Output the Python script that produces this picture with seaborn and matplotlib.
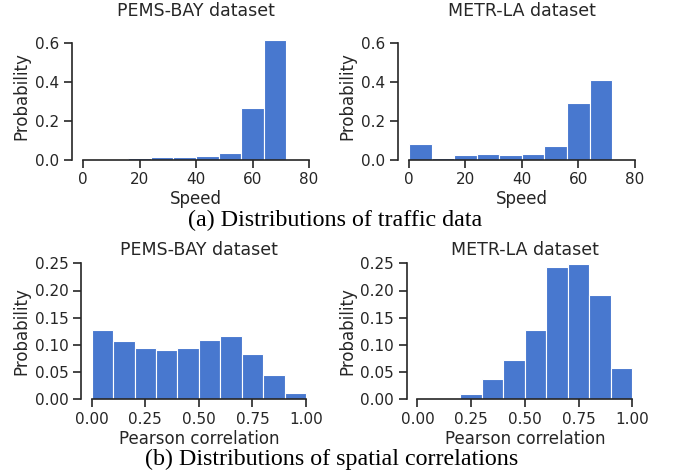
import numpy as np
import pandas as pd
import matplotlib
matplotlib.use("Agg")
import matplotlib.pyplot as plt
import seaborn as sns

# ---- data ----
speed_edges = [0, 8, 16, 24, 32, 40, 48, 56, 64, 72, 80]
pems_speed_prob = [0.0, 0.0, 0.009, 0.016, 0.016, 0.018, 0.034, 0.267, 0.616, 0.003]
metr_speed_prob = [0.082, 0.012, 0.025, 0.030, 0.027, 0.032, 0.073, 0.294, 0.412, 0.0]

corr_edges = [0.0, 0.1, 0.2, 0.3, 0.4, 0.5, 0.6, 0.7, 0.8, 0.9, 1.0]
pems_corr_prob = [0.127, 0.108, 0.095, 0.091, 0.094, 0.109, 0.117, 0.083, 0.044, 0.011]
metr_corr_prob = [0.0, 0.0, 0.009, 0.038, 0.073, 0.128, 0.243, 0.248, 0.191, 0.057]

titles = ["PEMS-BAY dataset", "METR-LA dataset"]
captions = ["(a) Distributions of traffic data", "(b) Distributions of spatial correlations"]

sns.set_theme(style="ticks")
plt.rcParams["font.family"] = ["DejaVu Sans"]
TXT = "#262626"
BAR = "#4878CF"

fig = plt.figure(figsize=(6.73, 4.75), dpi=100)
W, H = 673, 475

def make_ax(l, r, b, t):
    return fig.add_axes([l / W, 1 - b / H, (r - l) / W, (b - t) / H])

def draw(ax, edges, probs, title, xlabel, ylim, yticks, xticks, xticklabels, fmt, xlim, tpad):
    e = [float(v) for v in edges]
    centers = [(a + b) / 2 for a, b in zip(e[:-1], e[1:])]
    df = pd.DataFrame({"x": centers, "w": [float(p) for p in probs]})
    sns.histplot(data=df, x="x", weights="w", bins=e, ax=ax, color=BAR,
                 alpha=1.0, edgecolor="white", linewidth=0.8, stat="count")
    ax.set_ylim(*ylim)
    ax.set_xlim(*xlim)
    ax.set_yticks(yticks)
    ax.set_xticks(xticks)
    ax.set_xticklabels(xticklabels)
    ax.yaxis.set_major_formatter(matplotlib.ticker.FormatStrFormatter(fmt))
    ax.set_ylabel("Probability", fontsize=12, color=TXT, labelpad=3)
    ax.set_xlabel(xlabel, fontsize=12, color=TXT, labelpad=2)
    ax.set_title(title, fontsize=12.5, color=TXT, pad=tpad)
    ax.tick_params(labelsize=11, colors=TXT, length=6, width=1.2, pad=3)
    for s in ax.spines.values():
        s.set_color(TXT)
        s.set_linewidth(1.2)
    sns.despine(ax=ax, trim=True)

speed_ticks = [0, 20, 40, 60, 80]
speed_labels = ["0", "20", "40", "60", "80"]
cticks = [0, 0.25, 0.5, 0.75, 1.0]
clabels = ["0.00", "0.25", "0.50", "0.75", "1.00"]

ax1 = make_ax(71.7, 320.3, 160, 33)
draw(ax1, speed_edges, pems_speed_prob, titles[0], "Speed", (0, 0.65),
     [0, 0.2, 0.4, 0.6], speed_ticks, speed_labels, "%.1f", (-4, 84), 12)

ax2 = make_ax(397.7, 646, 160, 33)
draw(ax2, speed_edges, metr_speed_prob, titles[1], "Speed", (0, 0.65),
     [0, 0.2, 0.4, 0.6], speed_ticks, speed_labels, "%.1f", (-4, 84), 12)

ax3 = make_ax(81, 316.7, 399.3, 263.3)
draw(ax3, corr_edges, pems_corr_prob, titles[0], "Pearson correlation", (0, 0.25),
     [0, 0.05, 0.10, 0.15, 0.20, 0.25], cticks, clabels, "%.2f", (-0.05, 1.05), 6)

ax4 = make_ax(406.7, 643, 399.3, 263.3)
draw(ax4, corr_edges, metr_corr_prob, titles[1], "Pearson correlation", (0, 0.25),
     [0, 0.05, 0.10, 0.15, 0.20, 0.25], cticks, clabels, "%.2f", (-0.05, 1.05), 6)

fig.text(335 / W, 1 - 226 / H, captions[0], family="Liberation Serif", fontsize=17.3,
         ha="center", va="baseline", color="black")
fig.text(332 / W, 1 - 465.5 / H, captions[1], family="Liberation Serif", fontsize=17.3,
         ha="center", va="baseline", color="black")

fig.savefig("out.png", dpi=100)
